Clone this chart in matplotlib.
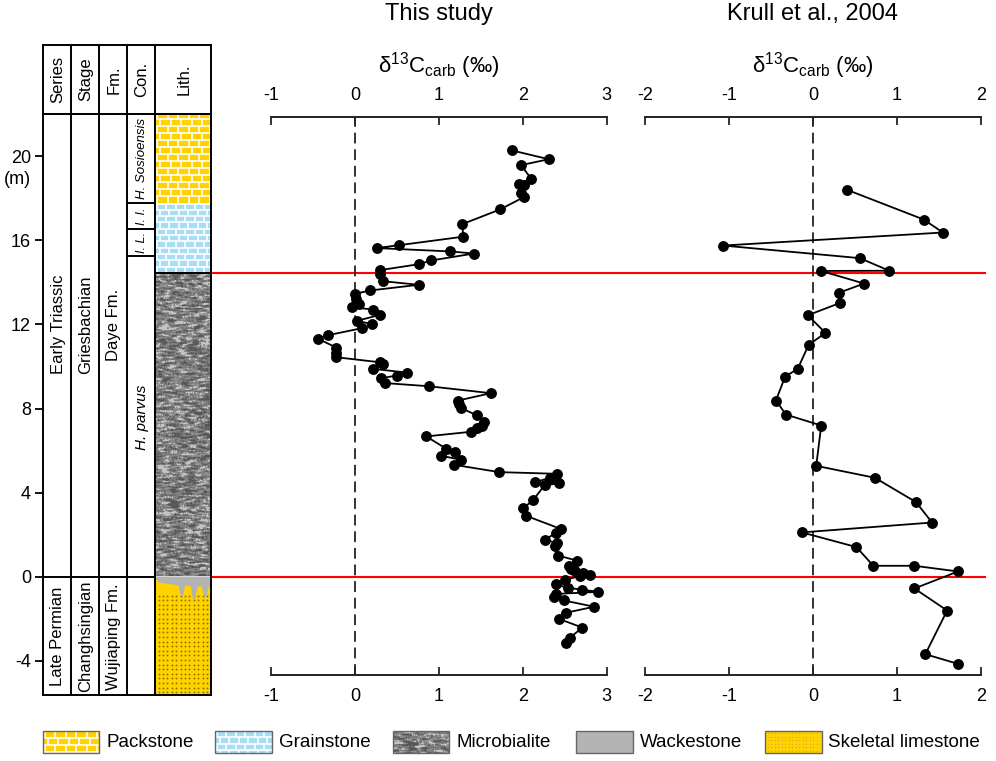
import numpy as np
import matplotlib.pyplot as plt
import matplotlib.transforms as mtransforms
from matplotlib.patches import Rectangle, Polygon
from matplotlib.collections import LineCollection
from matplotlib.lines import Line2D

plt.rcParams['font.family'] = ['Liberation Sans', 'DejaVu Sans']
plt.rcParams['mathtext.fontset'] = 'custom'
plt.rcParams['mathtext.rm'] = 'Liberation Sans'
plt.rcParams['mathtext.it'] = 'Liberation Sans:italic'
plt.rcParams['axes.unicode_minus'] = False

# ---- data (depth in m, d13C in permil) ----
study_depth = [20.29, 19.87, 19.59, 18.94, 18.70, 18.63, 18.25, 18.06, 17.48, 16.78,
               16.18, 15.78, 15.64, 15.48, 15.38, 15.05, 14.87, 14.59, 14.40, 14.06,
               13.89, 13.62, 13.46, 13.22, 12.98, 12.82, 12.71, 12.46, 12.17, 12.03,
               11.83, 11.49, 11.32, 10.90, 10.65, 10.44, 10.20, 10.10, 9.89, 9.71,
               9.57, 9.44, 9.21, 9.06, 8.73, 8.38, 8.21, 8.03, 7.68, 7.35,
               7.19, 7.06, 6.89, 6.67, 6.08, 5.94, 5.75, 5.56, 5.32, 4.97,
               4.89, 4.70, 4.49, 4.43, 4.35, 3.62, 3.24, 2.89, 2.27, 2.08,
               1.75, 1.59, 1.44, 1.00, 0.75, 0.52, 0.37, 0.25, 0.16, 0.06,
               0.02, -0.16, -0.38, -0.54, -0.63, -0.73, -0.83, -0.98, -1.14, -1.44,
               -1.73, -2.02, -2.43, -2.92, -3.17]
study_d13c = [1.87, 2.31, 1.98, 2.10, 1.95, 2.01, 1.98, 2.01, 1.73, 1.28,
              1.29, 0.53, 0.26, 1.13, 1.42, 0.91, 0.76, 0.30, 0.30, 0.34,
              0.76, 0.18, 0.00, 0.01, 0.05, -0.03, 0.22, 0.30, 0.02, 0.20,
              0.09, -0.32, -0.44, -0.22, -0.22, -0.22, 0.30, 0.34, 0.21, 0.62,
              0.50, 0.31, 0.36, 0.88, 1.62, 1.23, 1.24, 1.26, 1.45, 1.54,
              1.51, 1.46, 1.38, 0.85, 1.09, 1.19, 1.03, 1.26, 1.18, 1.72,
              2.41, 2.32, 2.15, 2.43, 2.26, 2.12, 2.00, 2.04, 2.45, 2.40,
              2.26, 2.41, 2.38, 2.42, 2.65, 2.55, 2.57, 2.62, 2.72, 2.80,
              2.68, 2.50, 2.39, 2.54, 2.71, 2.90, 2.40, 2.37, 2.49, 2.85,
              2.51, 2.43, 2.71, 2.56, 2.52]

krull_depth = [18.41, 17.00, 16.38, 15.76, 15.16, 14.56, 14.55, 13.95, 13.51, 13.02,
               12.44, 11.60, 11.03, 9.89, 9.52, 8.38, 7.71, 7.19, 5.27, 4.70,
               3.54, 2.57, 2.10, 1.40, 0.51, 0.51, 0.24, -0.57, -1.62, -3.70, -4.16]
krull_d13c = [0.41, 1.32, 1.55, -1.07, 0.56, 0.91, 0.10, 0.61, 0.31, 0.32,
              -0.06, 0.15, -0.05, -0.18, -0.33, -0.44, -0.32, 0.10, 0.04, 0.74,
              1.23, 1.42, -0.13, 0.52, 0.72, 1.21, 1.73, 1.21, 1.60, 1.34, 1.73]

depth_ticks = [-4, 0, 4, 8, 12, 16, 20]
boundary_lines = [14.46, 0.0]

series_labels = ['Early Triassic', 'Late Permian']
stage_labels = ['Griesbachian', 'Changhsingian']
fm_labels = ['Daye Fm.', 'Wujiaping Fm.']
unit_label_depth = [12.0, -2.85]

zone_labels = ['H. Sosioensis', 'I. I.', 'I. L.', 'H. parvus']
zone_tops = [22.0, 17.78, 16.56, 15.25]
zone_bottoms = [17.78, 16.56, 15.25, 0.0]
zone_label_depth = [19.9, 17.17, 15.9, 7.6]
zone_fontsize = [9.5, 9, 9, 11]

lith_tops = {'pack': 22.0, 'grain': 17.78, 'micro': 14.46, 'skel': 0.0}
lith_bottoms = {'pack': 17.78, 'grain': 14.46, 'micro': 0.0}

legend_labels = ['Packstone', 'Grainstone', 'Microbialite', 'Wackestone', 'Skeletal limestone']

# ---- layout helpers (pixels) ----
W, H = 996, 761
fig = plt.figure(figsize=(W / 100, H / 100), dpi=100)


def px_axes(x0, y0, x1, y1):
    ax = fig.add_axes([x0 / W, 1 - y1 / H, (x1 - x0) / W, (y1 - y0) / H])
    ax.set_facecolor('none')
    return ax


def mpx(y_px):
    return (576.5 - y_px) / 21.0


YELLOW = '#FFD200'
BLUE = '#A9DDF4'
WACKE = '#B3B3B3'


def bricks(ax, x0, x1, y0, y1, bw, bh, face, lw=1.2):
    ax.add_patch(Rectangle((x0, y0), x1 - x0, y1 - y0, facecolor=face,
                           edgecolor='none', zorder=1))
    segs = []
    for i, yb in enumerate(np.arange(y0, y1, bh)):
        yt = min(yb + bh, y1)
        if yb > y0:
            segs.append([(x0, yb), (x1, yb)])
        off = bw * 0.5 if i % 2 else bw * 0.2
        for xv in np.arange(x0 + off, x1, bw):
            segs.append([(xv, yb), (xv, yt)])
    ax.add_collection(LineCollection(segs, colors='white', linewidths=lw, zorder=1.2))


def micro_texture(ax, x0, x1, y0, y1, nx, ny, seed):
    # decorative rock texture only
    rng = np.random.default_rng(seed)
    n = rng.normal(size=(ny + 2, nx + 12))
    k = np.ones(6) / 6
    n = np.apply_along_axis(lambda r: np.convolve(r, k, mode='same'), 1, n)
    n = (n[:-1] + n[1:]) / 2
    n = n[:ny, 6:nx + 6]
    n = (n - n.mean()) / n.std()
    img = 0.50 + 0.10 * n
    img[n > 1.15] = 0.76
    img[n < -1.25] = 0.34
    ax.imshow(img, cmap='gray', vmin=0, vmax=1, extent=[x0, x1, y0, y1],
              aspect='auto', interpolation='nearest', zorder=1)


def dots(ax, x0, x1, y0, y1, dx, dy, color, s):
    xs = np.arange(x0 + dx * 0.8, x1 - dx * 0.4, dx)
    ys = np.arange(y0 + dy * 0.6, y1 - dy * 0.3, dy)
    gx, gy = np.meshgrid(xs, ys)
    ax.scatter(gx.ravel(), gy.ravel(), s=s, color=color, linewidths=0, zorder=1.2)


# ---- stratigraphic column ----
col_top, col_bot = 114.3, 695
ylo, yhi = mpx(col_bot), mpx(col_top)

ax_col = px_axes(42.7, col_top, 155, col_bot)
ax_col.set_xlim(42.7, 155)
ax_col.set_ylim(ylo, yhi)
for xv in [71, 99, 127]:
    ax_col.axvline(xv, color='black', lw=1.4)
ax_col.axhline(0, color='black', lw=1.4)
for zb in zone_bottoms[:-1]:
    ax_col.plot([127, 155], [zb, zb], color='black', lw=1.4)
ax_col.set_xticks([])
ax_col.set_yticks(depth_ticks)
ax_col.tick_params(axis='y', direction='out', length=5.5, width=1.3, labelsize=13, pad=3)
for sp in ax_col.spines.values():
    sp.set_linewidth(1.4)
ax_col.text(-0.1, 18.9, '(m)', transform=mtransforms.blended_transform_factory(
    ax_col.transAxes, ax_col.transData), ha='right', va='center', fontsize=13)

col_centers = [57, 85, 113]
for xc, labs in zip(col_centers, [series_labels, stage_labels, fm_labels]):
    for lab, yd in zip(labs, unit_label_depth):
        ax_col.text(xc + 1, yd, lab, rotation=90, ha='center', va='center', fontsize=12)
for lab, yd, fs in zip(zone_labels, zone_label_depth, zone_fontsize):
    ax_col.text(142, yd, lab, rotation=90, ha='center', va='center', fontsize=fs,
                style='italic')

ax_lith = px_axes(155, col_top, 210.7, col_bot)
lw_px = 55.7
ax_lith.set_xlim(0, lw_px)
ax_lith.set_ylim(ylo, yhi)
ax_lith.set_xticks([])
ax_lith.set_yticks([])
for sp in ax_lith.spines.values():
    sp.set_linewidth(1.4)
bricks(ax_lith, 0, lw_px, lith_bottoms['pack'], yhi, 10.5, 7 / 21, YELLOW)
bricks(ax_lith, 0, lw_px, lith_bottoms['grain'], lith_tops['grain'], 9.5, 6.3 / 21, BLUE)
micro_texture(ax_lith, 0, lw_px, lith_bottoms['micro'], lith_tops['micro'],
              56, int(14.46 * 21), 5)
ax_lith.add_patch(Rectangle((0, ylo), lw_px, lith_tops['skel'] - ylo,
                            facecolor=YELLOW, edgecolor='none', zorder=1))
dots(ax_lith, 0, lw_px, ylo, -0.7, 4.4, 4.6 / 21, '#8C7300', 1.8)
wf = np.array([0, 0.08, 0.3, 0.42, 0.46, 0.5, 0.54, 0.64, 0.68, 0.72, 0.76, 0.84, 0.88,
               0.92, 0.96, 1.0])
wd = np.array([-0.1, -0.3, -0.38, -0.42, -0.9, -0.95, -0.45, -0.45, -1.05, -1.1, -0.5,
               -0.45, -0.95, -1.0, -0.5, -0.55])
ax_lith.add_patch(Polygon(np.column_stack([np.r_[wf * lw_px, lw_px, 0],
                                           np.r_[wd, 0, 0]]),
                          facecolor=WACKE, edgecolor='none', zorder=1.5))
ax_lith.axhline(lith_tops['micro'], color='black', lw=1.4, zorder=3)

# header
ax_head = px_axes(42.7, 45, 210.7, col_top)
ax_head.set_xlim(42.7, 210.7)
ax_head.set_ylim(col_top, 45)
ax_head.set_xticks([])
ax_head.set_yticks([])
for sp in ax_head.spines.values():
    sp.set_linewidth(1.4)
for xv in [71, 99, 127, 155]:
    ax_head.axvline(xv, color='black', lw=1.4)
for xc, lab in zip([57, 85, 113, 141, 183], ['Series', 'Stage', 'Fm.', 'Con.', 'Lith.']):
    ax_head.text(xc + 1, 79.5, lab, rotation=90, ha='center', va='center', fontsize=12)

# ---- isotope panels ----
pan_top, pan_bot = 116.7, 675
panels = [
    (271, 606.7, study_d13c, study_depth, (-1, 3), 'This study'),
    (645, 980.7, krull_d13c, krull_depth, (-2, 2), 'Krull et al., 2004'),
]
first_ax = None
for x0, x1, vals, dep, xl, title in panels:
    ax = px_axes(x0, pan_top, x1, pan_bot)
    if first_ax is None:
        first_ax = ax
    ax.set_xlim(*xl)
    ax.set_ylim(mpx(pan_bot), mpx(pan_top))
    ax.axvline(0, color='#222222', lw=1.3, dashes=(6, 3.2), zorder=1)
    ax.plot(vals, dep, '-o', color='black', lw=1.3, ms=6.8, zorder=3)
    ax.set_xticks(range(xl[0], xl[1] + 1))
    ax.set_yticks([])
    ax.tick_params(axis='x', direction='in', top=True, bottom=True, labeltop=True,
                   labelbottom=True, length=5.5, width=1.3, labelsize=13, pad=9.5,
                   colors='#222222', labelcolor='black')
    for side in ['left', 'right']:
        ax.spines[side].set_visible(False)
    for side in ['top', 'bottom']:
        ax.spines[side].set_linewidth(1.4)
        ax.spines[side].set_color('#222222')
    xc = (x0 + x1) / 2 / W
    fig.text(xc, 1 - 14 / H, title, ha='center', va='center', fontsize=17)
    fig.text(xc, 1 - 66 / H, r'$\mathregular{\delta^{13}C_{carb}}$ (‰)',
             ha='center', va='center', fontsize=16)

trans = mtransforms.blended_transform_factory(fig.transFigure, first_ax.transData)
for yb in boundary_lines:
    fig.add_artist(Line2D([210.7 / W, 985 / W], [yb, yb], transform=trans,
                          color='red', lw=1.5, zorder=-1))

# ---- legend ----
ax_leg = px_axes(0, 700, W, H)
ax_leg.set_xlim(0, W)
ax_leg.set_ylim(H, 700)
ax_leg.axis('off')
leg_x = [42.7, 215, 392.7, 576, 765]
ly0, ly1 = 731, 753
pw = 56.5
for i, (lx, lab) in enumerate(zip(leg_x, legend_labels)):
    if i == 0:
        bricks(ax_leg, lx, lx + pw, ly0, ly1, 10.5, 7, YELLOW)
    elif i == 1:
        bricks(ax_leg, lx, lx + pw, ly0, ly1, 9.5, 6.3, BLUE)
    elif i == 2:
        micro_texture(ax_leg, lx, lx + pw, ly1, ly0, 57, 22, 11)
    elif i == 3:
        ax_leg.add_patch(Rectangle((lx, ly0), pw, ly1 - ly0, facecolor=WACKE,
                                   edgecolor='none', zorder=1))
    else:
        ax_leg.add_patch(Rectangle((lx, ly0), pw, ly1 - ly0, facecolor=YELLOW,
                                   edgecolor='none', zorder=1))
        dots(ax_leg, lx, lx + pw, ly0, ly1, 3.5, 3.5, '#E0A030', 0.8)
    ax_leg.add_patch(Rectangle((lx, ly0), pw, ly1 - ly0, facecolor='none',
                               edgecolor='#666666', lw=1.0, zorder=2))
    ax_leg.text(lx + pw + 7, (ly0 + ly1) / 2 + 1, lab, ha='left', va='center',
                fontsize=13.5)

fig.savefig('out.png', dpi=100)
